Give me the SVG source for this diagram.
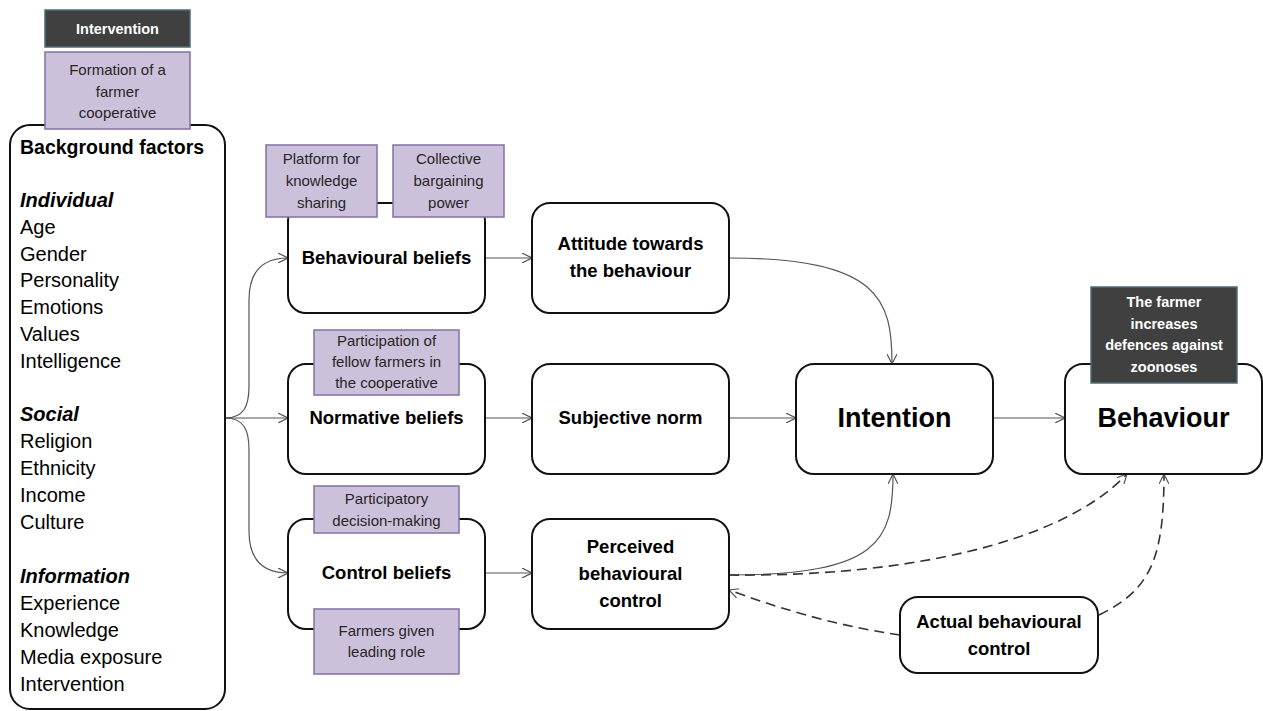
<svg xmlns="http://www.w3.org/2000/svg" width="1263" height="711" viewBox="0 0 1263 711">
<style>
.node{fill:#fff;stroke:#111;stroke-width:2}
.lav{fill:#ccc1da;stroke:#8470a4;stroke-width:1.5}
.dark{fill:#404040;stroke:#4a6e78;stroke-width:1.5}
.nt{font-family:"Liberation Sans",Arial,sans-serif;font-weight:bold;font-size:18.5px;fill:#000;text-anchor:middle}
.big{font-size:27px}
.lt{font-family:"Liberation Sans",Arial,sans-serif;font-size:15px;fill:#262626;text-anchor:middle}
.dt{font-family:"Liberation Sans",Arial,sans-serif;font-weight:bold;font-size:14.5px;fill:#fff;text-anchor:middle}
.bg{font-family:"Liberation Sans",Arial,sans-serif;font-size:20px;fill:#000}
.bgb{font-weight:bold;font-size:19.5px}
.bgi{font-weight:bold;font-style:italic}
.c{fill:none;stroke:#555;stroke-width:1.2}
.d{fill:none;stroke:#333;stroke-width:1.6;stroke-dasharray:10 6}
</style>
<defs>
<marker id="ah" viewBox="0 0 10 10" refX="10" refY="5" markerWidth="10" markerHeight="10" markerUnits="userSpaceOnUse" orient="auto">
<path d="M0,0 L10,5 L0,10" fill="none" stroke="#555" stroke-width="1.2"/>
</marker>
</defs>

<g id="connectors">
<path class="c" d="M225,418 C244,418 249,406 249,386 L249,300 C249,272 262,258 288,258" marker-end="url(#ah)"/>
<path class="c" d="M225,418 L288,418" marker-end="url(#ah)"/>
<path class="c" d="M225,418 C244,418 249,430 249,450 L249,531 C249,559 262,573 288,573" marker-end="url(#ah)"/>
<path class="c" d="M485,258 L532,258" marker-end="url(#ah)"/>
<path class="c" d="M485,418 L532,418" marker-end="url(#ah)"/>
<path class="c" d="M485,573 L532,573" marker-end="url(#ah)"/>
<path class="c" d="M729,258 C880,258 892,300 892,364" marker-end="url(#ah)"/>
<path class="c" d="M729,418 L796,418" marker-end="url(#ah)"/>
<path class="c" d="M729,575 C880,575 893,540 893,474" marker-end="url(#ah)"/>
<path class="c" d="M993,418 L1065,418" marker-end="url(#ah)"/>
<path class="d" d="M729,575 C900,577 1060,545 1127,474" marker-end="url(#ah)"/>
<path class="d" d="M1099,615 C1150,590 1164,560 1164,474" marker-end="url(#ah)"/>
<path class="d" d="M900,635 C830,625 770,605 729,590" marker-end="url(#ah)"/>
</g>

<g id="background">
<rect class="node" x="10" y="125" width="215" height="584" rx="20"/>
<text class="bg bgb" x="20" y="154">Background factors</text>
<text class="bg bgi" x="20" y="207">Individual</text>
<text class="bg" x="20" y="234">Age</text>
<text class="bg" x="20" y="261">Gender</text>
<text class="bg" x="20" y="287">Personality</text>
<text class="bg" x="20" y="314">Emotions</text>
<text class="bg" x="20" y="341">Values</text>
<text class="bg" x="20" y="368">Intelligence</text>
<text class="bg bgi" x="20" y="421">Social</text>
<text class="bg" x="20" y="448">Religion</text>
<text class="bg" x="20" y="475">Ethnicity</text>
<text class="bg" x="20" y="502">Income</text>
<text class="bg" x="20" y="529">Culture</text>
<text class="bg bgi" x="20" y="583">Information</text>
<text class="bg" x="20" y="610">Experience</text>
<text class="bg" x="20" y="637">Knowledge</text>
<text class="bg" x="20" y="664">Media exposure</text>
<text class="bg" x="20" y="691">Intervention</text>
</g>

<g id="intervention-label">
<rect class="dark" x="45" y="10" width="145" height="37"/>
<text class="dt" x="117.5" y="34">Intervention</text>
</g>
<g id="formation">
<rect class="lav" x="45" y="52" width="145" height="77"/>
<text class="lt" x="117.5" y="75">Formation of a</text>
<text class="lt" x="117.5" y="97">farmer</text>
<text class="lt" x="117.5" y="118">cooperative</text>
</g>

<g id="behavioural-beliefs">
<rect class="node" x="288" y="203" width="197" height="110" rx="18"/>
<text class="nt" x="386.5" y="264">Behavioural beliefs</text>
</g>
<g id="platform">
<rect class="lav" x="266" y="145" width="111" height="72"/>
<text class="lt" x="321.5" y="164">Platform for</text>
<text class="lt" x="321.5" y="186">knowledge</text>
<text class="lt" x="321.5" y="208">sharing</text>
</g>
<g id="collective">
<rect class="lav" x="393" y="145" width="111" height="72"/>
<text class="lt" x="448.5" y="164">Collective</text>
<text class="lt" x="448.5" y="186">bargaining</text>
<text class="lt" x="448.5" y="208">power</text>
</g>

<g id="attitude">
<rect class="node" x="532" y="203" width="197" height="110" rx="18"/>
<text class="nt" x="630.5" y="250">Attitude towards</text>
<text class="nt" x="630.5" y="277">the behaviour</text>
</g>

<g id="normative-beliefs">
<rect class="node" x="288" y="364" width="197" height="110" rx="18"/>
<text class="nt" x="386.5" y="424">Normative beliefs</text>
</g>
<g id="participation">
<rect class="lav" x="314" y="330" width="145" height="65"/>
<text class="lt" x="386.5" y="346">Participation of</text>
<text class="lt" x="386.5" y="367">fellow farmers in</text>
<text class="lt" x="386.5" y="388">the cooperative</text>
</g>

<g id="subjective-norm">
<rect class="node" x="532" y="364" width="197" height="110" rx="18"/>
<text class="nt" x="630.5" y="424">Subjective norm</text>
</g>

<g id="control-beliefs">
<rect class="node" x="288" y="519" width="197" height="110" rx="18"/>
<text class="nt" x="386.5" y="579">Control beliefs</text>
</g>
<g id="participatory">
<rect class="lav" x="314" y="486" width="145" height="47"/>
<text class="lt" x="386.5" y="504">Participatory</text>
<text class="lt" x="386.5" y="526">decision-making</text>
</g>
<g id="farmers-given">
<rect class="lav" x="314" y="609" width="145" height="65"/>
<text class="lt" x="386.5" y="636">Farmers given</text>
<text class="lt" x="386.5" y="657">leading role</text>
</g>

<g id="perceived">
<rect class="node" x="532" y="519" width="197" height="110" rx="18"/>
<text class="nt" x="630.5" y="553">Perceived</text>
<text class="nt" x="630.5" y="580">behavioural</text>
<text class="nt" x="630.5" y="607">control</text>
</g>

<g id="intention">
<rect class="node" x="796" y="364" width="197" height="110" rx="18"/>
<text class="nt big" x="894.5" y="427">Intention</text>
</g>

<g id="behaviour">
<rect class="node" x="1065" y="364" width="197" height="110" rx="18"/>
<text class="nt big" x="1163.5" y="427">Behaviour</text>
</g>
<g id="farmer-increases">
<rect class="dark" x="1091" y="287" width="146" height="96"/>
<text class="dt" x="1164" y="307">The farmer</text>
<text class="dt" x="1164" y="329">increases</text>
<text class="dt" x="1164" y="350">defences against</text>
<text class="dt" x="1164" y="372">zoonoses</text>
</g>

<g id="actual-control">
<rect class="node" x="900" y="597" width="198" height="76" rx="18"/>
<text class="nt" x="999" y="628">Actual behavioural</text>
<text class="nt" x="999" y="655">control</text>
</g>
</svg>
